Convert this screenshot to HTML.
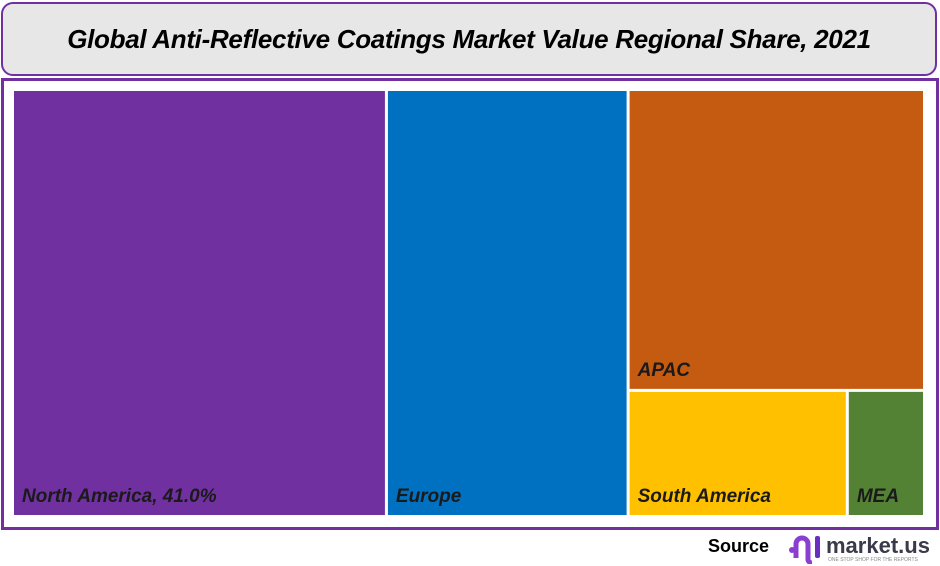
<!DOCTYPE html>
<html><head><meta charset="utf-8">
<style>
body{margin:0;width:940px;height:566px;background:#fff;font-family:"Liberation Sans",sans-serif;position:relative;overflow:hidden}
#title{position:absolute;left:1px;top:2px;width:932px;height:70px;border:2px solid #7030a0;border-radius:12px;background:#e7e7e7;display:flex;align-items:center;justify-content:center;font:italic bold 26px "Liberation Sans",sans-serif;color:#000;letter-spacing:-0.3px}
#frame{position:absolute;left:1px;top:78px;width:932px;height:446px;border:3px solid #7030a0;background:#fff}
#src{position:absolute;left:708px;top:536px;font:bold 18px "Liberation Sans",sans-serif;color:#000}
#logo{position:absolute;left:786px;top:530px}
</style></head><body>
<div id="title">Global Anti-Reflective Coatings Market Value Regional Share, 2021</div>
<div id="frame"></div>
<svg id="chart" width="940" height="566" style="position:absolute;left:0;top:0"></svg>
<div id="src">Source</div>
<svg id="logo" width="152" height="34">
<circle cx="6" cy="20" r="3" fill="#8a3fd1"/>
<path d="M10 28 V14 a6 6 0 0 1 12 0 V30 a4 4 0 0 0 4 3" stroke="#8a3fd1" stroke-width="5" fill="none"/>
<rect x="29" y="6" width="5" height="22" rx="2" fill="#6a2fc0"/>
<text x="40" y="23" font-family="Liberation Sans" font-weight="bold" font-size="22" fill="#3a3a4a">market.us</text>
<text x="42" y="31" font-family="Liberation Sans" font-size="5" fill="#888">ONE STOP SHOP FOR THE REPORTS</text>
</svg>
<script>
const regions = ["North America","Europe","APAC","South America","MEA"];
const shares = [41.0, 26.5, 22.9, 7.1, 2.5];
const labels = ["North America, 41.0%","Europe","APAC","South America","MEA"];
const colors = ["#7030a0","#0070c0","#c55a11","#ffc000","#548235"];
const svg = document.getElementById('chart');
const NS = "http://www.w3.org/2000/svg";
const X0 = 13, Y0 = 90, W = 912, H = 427, G = 3;
const total = shares.reduce((a,b)=>a+b,0);
const rects = [];
let x = X0;
for (let i = 0; i < 2; i++) {
  const w = W * shares[i] / total;
  rects.push([x, Y0, w, H]);
  x += w;
}
const restW = X0 + W - x;
const rest = shares[2] + shares[3] + shares[4];
const hA = H * shares[2] / rest;
rects.push([x, Y0, restW, hA]);
const bot = shares[3] + shares[4];
const wS = restW * shares[3] / bot;
rects.push([x, Y0 + hA, wS, H - hA]);
rects.push([x + wS, Y0 + hA, restW - wS, H - hA]);
rects.forEach((r, i) => {
  const el = document.createElementNS(NS, 'rect');
  el.setAttribute('x', r[0] + 1); el.setAttribute('y', r[1] + 1);
  el.setAttribute('width', Math.max(0, r[2] - G)); el.setAttribute('height', Math.max(0, r[3] - G));
  el.setAttribute('fill', colors[i]);
  
  
  svg.appendChild(el);
  const t = document.createElementNS(NS, 'text');
  t.setAttribute('x', r[0] + 9); t.setAttribute('y', r[1] + r[3] - 15);
  t.setAttribute('font-family', 'Liberation Sans'); t.setAttribute('font-size', '19');
  t.setAttribute('font-weight', 'bold'); t.setAttribute('font-style', 'italic');
  t.setAttribute('fill', '#1a1a1a');
  t.textContent = labels[i];
  
  
  svg.appendChild(t);
});
</script>
</body></html>
